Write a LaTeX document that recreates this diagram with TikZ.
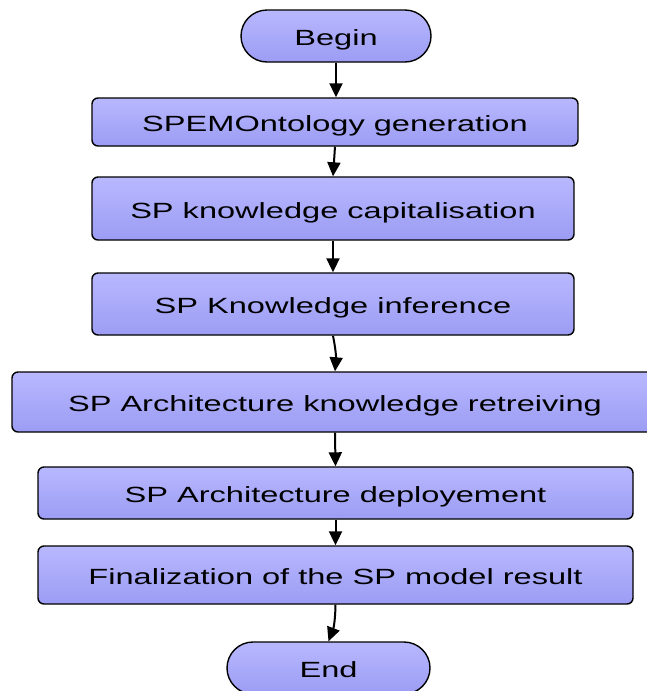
\documentclass[tikz,border=0pt]{standalone}
\usepackage{fontspec}
\usepackage{graphicx}
\setmainfont{Liberation Sans}
\usetikzlibrary{arrows.meta}
\definecolor{lavtop}{RGB}{184,184,255}
\definecolor{lavbot}{RGB}{156,156,244}
\newcommand{\wide}[1]{\scalebox{1.48}[1]{#1}}
\tikzset{
    stepbox/.style={draw=black, line width=1.4pt, rounded corners=6pt,
        top color=lavtop, bottom color=lavbot, inner sep=0pt,
        text height=19pt, text depth=0pt,
        font=\fontsize{22}{26}\selectfont},
    termbox/.style={stepbox, rounded corners=26pt, minimum width=190pt, minimum height=52pt},
    flow/.style={line width=2pt, -{Triangle[width=13pt,length=14pt]}}
}
\begin{document}
\begin{tikzpicture}[x=1pt,y=-1pt]
        \useasboundingbox (0,0) rectangle (647,691);
        \node[termbox] (begin) at (336,36) {\wide{Begin}};
        \node[stepbox, minimum width=486pt, minimum height=48pt] (gen) at (335,122) {\wide{SPEMOntology generation}};
        \node[stepbox, minimum width=482pt, minimum height=63pt] (cap) at (333,208.5) {\wide{SP knowledge capitalisation}};
        \node[stepbox, minimum width=482pt, minimum height=62pt] (inf) at (333,304) {\wide{SP Knowledge inference}};
        \node[stepbox, minimum width=646pt, minimum height=60pt] (ret) at (335,402) {\wide{SP Architecture knowledge retreiving}};
        \node[stepbox, minimum width=595pt, minimum height=52pt] (dep) at (335.5,493) {\wide{SP Architecture deployement}};
        \node[stepbox, minimum width=595pt, minimum height=58pt] (fin) at (335.5,575) {\wide{Finalization of the SP model result}};
        \node[termbox, minimum width=203pt] (end) at (328.5,668) {\wide{End}};
        \draw[flow] (begin.south) -- (begin.south |- gen.north);
        \draw[flow] (gen.south) -- (cap.north);
        \draw[flow] (cap.south) -- (inf.north);
        \draw[flow] (inf.south) to[bend left=8] (ret.north);
        \draw[flow] (ret.south) -- (dep.north);
        \draw[flow] (dep.south) -- (fin.north);
        \draw[flow] (fin.south) to[bend left=10] (end.north);
    \end{tikzpicture}
\end{document}
